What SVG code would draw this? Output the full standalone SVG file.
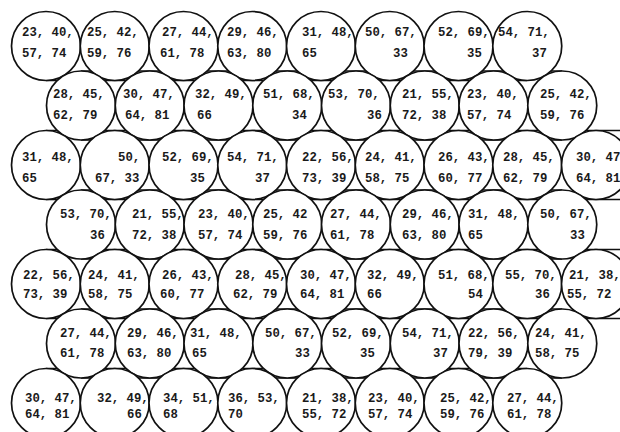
<svg xmlns="http://www.w3.org/2000/svg" width="620" height="432" viewBox="0 0 620 432">
<style>
circle{fill:#fff;stroke:#111;stroke-width:1.7}
text{font-family:"Liberation Mono","Courier New",monospace;font-size:12.3px;font-weight:bold;fill:#1a1a1a}
.g{stroke:#111;stroke-width:1.5;fill:none}
</style>
<rect width="620" height="432" fill="#fff"/>
<g id="guides">
<path class="g" d="M46 80.5H527 M81 71H562 M81 140H562 M46 130.5H620 M46 199.5H620 M81 190H562 M81 259H562 M46 249.5H620 M46 318.5H620 M81 309H562 M81 378H562 M46 368.5H527"/>
</g>
<!-- Row 1 -->
<g id="r1c1"><circle cx="46" cy="46" r="34.5"/><text x="22" y="36">23, 40,</text><text x="22" y="57">57, 74</text></g>
<g id="r1c2"><circle cx="114.75" cy="46" r="34.5"/><text x="87" y="36">25, 42,</text><text x="87" y="57">59, 76</text></g>
<g id="r1c3"><circle cx="183.5" cy="46" r="34.5"/><text x="162" y="36">27, 44,</text><text x="160" y="57">61, 78</text></g>
<g id="r1c4"><circle cx="252.25" cy="46" r="34.5"/><text x="227" y="36">29, 46,</text><text x="227" y="57">63, 80</text></g>
<g id="r1c5"><circle cx="321" cy="46" r="34.5"/><text x="302" y="36">31, 48,</text><text x="302" y="57">65</text></g>
<g id="r1c6"><circle cx="389.75" cy="46" r="34.5"/><text x="365" y="36">50, 67,</text><text x="393" y="57">33</text></g>
<g id="r1c7"><circle cx="458.5" cy="46" r="34.5"/><text x="438" y="36">52, 69,</text><text x="467" y="57">35</text></g>
<g id="r1c8"><circle cx="527.25" cy="46" r="34.5"/><text x="498" y="36">54, 71,</text><text x="532" y="57">37</text></g>
<!-- Row 2 -->
<g id="r2c1"><circle cx="81" cy="105.5" r="34.5"/><text x="53" y="98">28, 45,</text><text x="53" y="119">62, 79</text></g>
<g id="r2c2"><circle cx="149.75" cy="105.5" r="34.5"/><text x="123" y="98">30, 47,</text><text x="125" y="119">64, 81</text></g>
<g id="r2c3"><circle cx="218.5" cy="105.5" r="34.5"/><text x="195" y="98">32, 49,</text><text x="197" y="119">66</text></g>
<g id="r2c4"><circle cx="287.25" cy="105.5" r="34.5"/><text x="263" y="98">51, 68,</text><text x="292" y="119">34</text></g>
<g id="r2c5"><circle cx="356" cy="105.5" r="34.5"/><text x="328" y="98">53, 70,</text><text x="367" y="119">36</text></g>
<g id="r2c6"><circle cx="424.75" cy="105.5" r="34.5"/><text x="402" y="98">21, 55,</text><text x="402" y="119">72, 38</text></g>
<g id="r2c7"><circle cx="493.5" cy="105.5" r="34.5"/><text x="467" y="98">23, 40,</text><text x="467" y="119">57, 74</text></g>
<g id="r2c8"><circle cx="562.25" cy="105.5" r="34.5"/><text x="540" y="98">25, 42,</text><text x="540" y="119">59, 76</text></g>
<!-- Row 3 -->
<g id="r3c1"><circle cx="46" cy="165" r="34.5"/><text x="22" y="161">31, 48,</text><text x="22" y="182">65</text></g>
<g id="r3c2"><circle cx="114.75" cy="165" r="34.5"/><text x="118" y="161">50,</text><text x="95" y="182">67, 33</text></g>
<g id="r3c3"><circle cx="183.5" cy="165" r="34.5"/><text x="162" y="161">52, 69,</text><text x="190" y="182">35</text></g>
<g id="r3c4"><circle cx="252.25" cy="165" r="34.5"/><text x="227" y="161">54, 71,</text><text x="255" y="182">37</text></g>
<g id="r3c5"><circle cx="321" cy="165" r="34.5"/><text x="302" y="161">22, 56,</text><text x="302" y="182">73, 39</text></g>
<g id="r3c6"><circle cx="389.75" cy="165" r="34.5"/><text x="365" y="161">24, 41,</text><text x="365" y="182">58, 75</text></g>
<g id="r3c7"><circle cx="458.5" cy="165" r="34.5"/><text x="438" y="161">26, 43,</text><text x="438" y="182">60, 77</text></g>
<g id="r3c8"><circle cx="527.25" cy="165" r="34.5"/><text x="503" y="161">28, 45,</text><text x="503" y="182">62, 79</text></g>
<g id="r3c9"><circle cx="596" cy="165" r="34.5"/><text x="576" y="161">30, 47</text><text x="576" y="182">64, 81</text></g>
<!-- Row 4 -->
<g id="r4c1"><circle cx="81" cy="224.5" r="34.5"/><text x="60" y="218">53, 70,</text><text x="90" y="239">36</text></g>
<g id="r4c2"><circle cx="149.75" cy="224.5" r="34.5"/><text x="132" y="218">21, 55,</text><text x="132" y="239">72, 38</text></g>
<g id="r4c3"><circle cx="218.5" cy="224.5" r="34.5"/><text x="198" y="218">23, 40,</text><text x="198" y="239">57, 74</text></g>
<g id="r4c4"><circle cx="287.25" cy="224.5" r="34.5"/><text x="263" y="218">25, 42</text><text x="263" y="239">59, 76</text></g>
<g id="r4c5"><circle cx="356" cy="224.5" r="34.5"/><text x="330" y="218">27, 44,</text><text x="330" y="239">61, 78</text></g>
<g id="r4c6"><circle cx="424.75" cy="224.5" r="34.5"/><text x="402" y="218">29, 46,</text><text x="402" y="239">63, 80</text></g>
<g id="r4c7"><circle cx="493.5" cy="224.5" r="34.5"/><text x="468" y="218">31, 48,</text><text x="468" y="239">65</text></g>
<g id="r4c8"><circle cx="562.25" cy="224.5" r="34.5"/><text x="540" y="218">50, 67,</text><text x="570" y="239">33</text></g>
<!-- Row 5 -->
<g id="r5c1"><circle cx="46" cy="284" r="34.5"/><text x="23" y="279">22, 56,</text><text x="23" y="298">73, 39</text></g>
<g id="r5c2"><circle cx="114.75" cy="284" r="34.5"/><text x="88" y="279">24, 41,</text><text x="88" y="298">58, 75</text></g>
<g id="r5c3"><circle cx="183.5" cy="284" r="34.5"/><text x="162" y="279">26, 43,</text><text x="160" y="298">60, 77</text></g>
<g id="r5c4"><circle cx="252.25" cy="284" r="34.5"/><text x="235" y="279">28, 45,</text><text x="233" y="298">62, 79</text></g>
<g id="r5c5"><circle cx="321" cy="284" r="34.5"/><text x="300" y="279">30, 47,</text><text x="300" y="298">64, 81</text></g>
<g id="r5c6"><circle cx="389.75" cy="284" r="34.5"/><text x="367" y="279">32, 49,</text><text x="367" y="298">66</text></g>
<g id="r5c7"><circle cx="458.5" cy="284" r="34.5"/><text x="438" y="279">51, 68,</text><text x="468" y="298">54</text></g>
<g id="r5c8"><circle cx="527.25" cy="284" r="34.5"/><text x="505" y="279">55, 70,</text><text x="535" y="298">36</text></g>
<g id="r5c9"><circle cx="596" cy="284" r="34.5"/><text x="569" y="279">21, 38,</text><text x="567" y="298">55, 72</text></g>
<!-- Row 6 -->
<g id="r6c1"><circle cx="81" cy="343.5" r="34.5"/><text x="60" y="337">27, 44,</text><text x="60" y="357">61, 78</text></g>
<g id="r6c2"><circle cx="149.75" cy="343.5" r="34.5"/><text x="127" y="337">29, 46,</text><text x="127" y="357">63, 80</text></g>
<g id="r6c3"><circle cx="218.5" cy="343.5" r="34.5"/><text x="190" y="337">31, 48,</text><text x="192" y="357">65</text></g>
<g id="r6c4"><circle cx="287.25" cy="343.5" r="34.5"/><text x="265" y="337">50, 67,</text><text x="295" y="357">33</text></g>
<g id="r6c5"><circle cx="356" cy="343.5" r="34.5"/><text x="332" y="337">52, 69,</text><text x="360" y="357">35</text></g>
<g id="r6c6"><circle cx="424.75" cy="343.5" r="34.5"/><text x="402" y="337">54, 71,</text><text x="433" y="357">37</text></g>
<g id="r6c7"><circle cx="493.5" cy="343.5" r="34.5"/><text x="468" y="337">22, 56,</text><text x="468" y="357">79, 39</text></g>
<g id="r6c8"><circle cx="562.25" cy="343.5" r="34.5"/><text x="535" y="337">24, 41,</text><text x="535" y="357">58, 75</text></g>
<!-- Row 7 -->
<g id="r7c1"><circle cx="46" cy="403" r="34.5"/><text x="25" y="402">30, 47,</text><text x="25" y="418">64, 81</text></g>
<g id="r7c2"><circle cx="114.75" cy="403" r="34.5"/><text x="97" y="402">32, 49,</text><text x="127" y="418">66</text></g>
<g id="r7c3"><circle cx="183.5" cy="403" r="34.5"/><text x="163" y="402">34, 51,</text><text x="163" y="418">68</text></g>
<g id="r7c4"><circle cx="252.25" cy="403" r="34.5"/><text x="228" y="402">36, 53,</text><text x="228" y="418">70</text></g>
<g id="r7c5"><circle cx="321" cy="403" r="34.5"/><text x="302" y="402">21, 38,</text><text x="302" y="418">55, 72</text></g>
<g id="r7c6"><circle cx="389.75" cy="403" r="34.5"/><text x="368" y="402">23, 40,</text><text x="368" y="418">57, 74</text></g>
<g id="r7c7"><circle cx="458.5" cy="403" r="34.5"/><text x="440" y="402">25, 42,</text><text x="440" y="418">59, 76</text></g>
<g id="r7c8"><circle cx="527.25" cy="403" r="34.5"/><text x="507" y="402">27, 44,</text><text x="507" y="418">61, 78</text></g>
</svg>
